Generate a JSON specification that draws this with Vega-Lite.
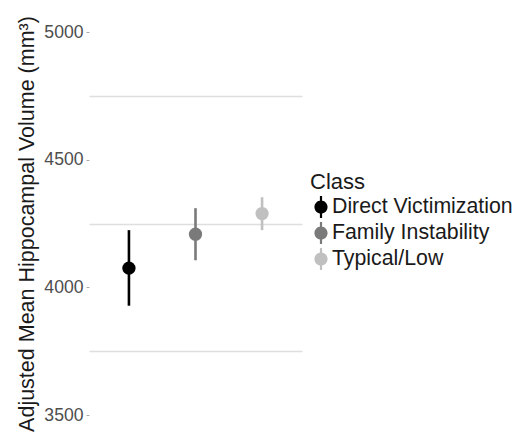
{
  "$schema": "https://vega.github.io/schema/vega-lite/v6.json",
  "width": 213,
  "height": 383,
  "autosize": "none",
  "padding": {"left": 89, "top": 32, "right": 215, "bottom": 18},
  "background": "white",
  "config": {
    "view": {"stroke": null},
    "font": "Liberation Sans",
    "axis": {"labelFont": "Liberation Sans", "titleFont": "Liberation Sans"},
    "legend": {"labelFont": "Liberation Sans", "titleFont": "Liberation Sans"}
  },
  "data": {
    "values": [
      {"Class": "Direct Victimization", "mean": 4075, "lo": 3928, "hi": 4224},
      {"Class": "Family Instability", "mean": 4208, "lo": 4106, "hi": 4310},
      {"Class": "Typical/Low", "mean": 4289, "lo": 4224, "hi": 4353}
    ]
  },
  "encoding": {
    "x": {
      "field": "Class",
      "type": "nominal",
      "scale": {"type": "point", "padding": 0.6, "domain": ["Direct Victimization", "Family Instability", "Typical/Low"]},
      "axis": null
    },
    "color": {
      "field": "Class",
      "type": "nominal",
      "scale": {"domain": ["Direct Victimization", "Family Instability", "Typical/Low"], "range": ["#000000", "#7a7a7a", "#c0c0c0"]},
      "legend": {
        "title": "Class",
        "orient": "none",
        "legendX": 221,
        "legendY": 140,
        "titleFontSize": 22,
        "titleFontWeight": "normal",
        "titleColor": "#1a1a1a",
        "titlePadding": 2,
        "labelFontSize": 21.3,
        "labelColor": "#1a1a1a",
        "labelLimit": 0,
        "labelOffset": 0,
        "rowPadding": 4,
        "symbolType": "M-0.6,0A0.6,0.6,0,1,1,0.6,0A0.6,0.6,0,1,1,-0.6,0Z M-0.1,-1L0.1,-1L0.1,-0.5L-0.1,-0.5Z M-0.1,0.5L0.1,0.5L0.1,1L-0.1,1Z",
        "symbolSize": 480,
        "symbolStrokeWidth": 0,
        "symbolOpacity": 1
      }
    }
  },
  "layer": [
    {
      "mark": {"type": "rule", "strokeWidth": 2.6},
      "encoding": {
        "y": {
          "field": "lo",
          "type": "quantitative",
          "scale": {"domain": [3500, 5000], "nice": false, "zero": false},
          "axis": {
            "orient": "left",
            "values": [3500, 4000, 4500, 5000],
            "format": "d",
            "grid": false,
            "domain": false,
            "ticks": true,
            "tickSize": 3,
            "tickColor": "#aaaaaa",
            "tickWidth": 1,
            "labelPadding": 3,
            "labelFontSize": 17.6,
            "labelColor": "#4d4d4d",
            "title": "Adjusted Mean Hippocampal Volume (mm³)",
            "titleFontSize": 21.5,
            "titleFontWeight": "normal",
            "titleColor": "#1a1a1a",
            "titlePadding": 5
          }
        },
        "y2": {"field": "hi"}
      }
    },
    {
      "mark": {"type": "point", "filled": true, "shape": "circle", "size": 175, "opacity": 1},
      "encoding": {
        "y": {
          "field": "mean",
          "type": "quantitative",
          "axis": {
            "orient": "right",
            "values": [3750, 4250, 4750],
            "grid": true,
            "gridColor": "#dedede",
            "gridWidth": 1.5,
            "labels": false,
            "ticks": false,
            "domain": false,
            "title": null
          }
        }
      }
    }
  ],
  "resolve": {"axis": {"y": "independent"}}
}
